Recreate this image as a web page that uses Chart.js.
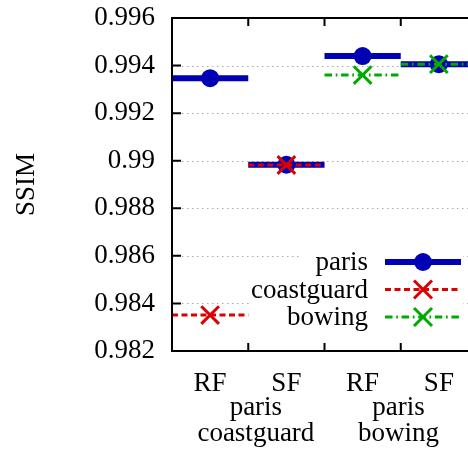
<!DOCTYPE html>
<html>
<head>
<meta charset="utf-8">
<script src="https://cdn.jsdelivr.net/npm/chart.js@4"></script>
<style>
  html, body { margin: 0; padding: 0; background: #fff; }
  #wrap { width: 468px; height: 449px; overflow: hidden; }
  canvas { display: block; }
</style>
</head>
<body>
<div id="wrap"><canvas id="ssim" width="480" height="449"></canvas></div>
<script>
// SSIM per method, one value per category (null = not in that group)
const categories = ['RF', 'SF', 'RF', 'SF'];
const groupNames = [['paris', 'coastguard'], ['paris', 'bowing']];
const parisSSIM = [0.99347, 0.98983, 0.99440, 0.99406];
const coastguardSSIM = [0.98351, 0.98982, null, null];
const bowingSSIM = [null, null, 0.99360, 0.99406];
const yTicks = [0.982, 0.984, 0.986, 0.988, 0.99, 0.992, 0.994, 0.996];

const FONT = 'Liberation Serif';
const FSIZE = 27;
const BLUE = '#0000b4';
const RED = '#dd0000';
const GREEN = '#00aa00';

// each value becomes a flat segment across its category with a marker in the middle
function segments(values) {
  const pts = [];
  values.forEach((v, i) => {
    if (v === null) return;
    pts.push({ x: i, y: v }, { x: i + 0.5, y: v, mark: true }, { x: i + 1, y: v }, { x: i + 1, y: null });
  });
  return pts;
}

function series(label, values, color, width, dash, style, radius, pw, order) {
  return {
    label: label,
    data: segments(values),
    borderColor: color,
    backgroundColor: color,
    borderWidth: width,
    borderDash: dash,
    borderCapStyle: 'butt',
    pointStyle: style,
    pointRadius: c => (c.raw && c.raw.mark ? radius : 0),
    pointBorderWidth: pw,
    pointBorderColor: color,
    pointBackgroundColor: color,
    spanGaps: false,
    tension: 0,
    order: order
  };
}

const datasets = [
  series('paris', parisSSIM, BLUE, 6, [], 'circle', 9, 0, 3),
  series('coastguard', coastguardSSIM, RED, 3, [6, 3.5], 'crossRot', 12.5, 3, 2),
  series('bowing', bowingSSIM, GREEN, 3, [7.5, 3.7, 1.7, 3.7], 'crossRot', 12.5, 3, 1)
];

// no extra room for overhanging tick labels, the frame sits where padding says
function noOverhang(s) {
  s.paddingTop = 0;
  s.paddingBottom = 0;
  s.paddingLeft = 0;
  s.paddingRight = 0;
}

// dotted horizontal grid under the data
const gridPlugin = {
  id: 'dottedGrid',
  beforeDatasetsDraw(chart) {
    const { ctx, chartArea: a, scales: { y } } = chart;
    ctx.save();
    ctx.strokeStyle = '#aaaaaa';
    ctx.lineWidth = 1;
    ctx.setLineDash([1.5, 3.5]);
    yTicks.slice(1, -1).forEach(t => {
      const py = Math.round(y.getPixelForValue(t)) + 0.5;
      ctx.beginPath();
      ctx.moveTo(a.left, py);
      ctx.lineTo(a.right, py);
      ctx.stroke();
    });
    ctx.restore();
  }
};

// frame, inward ticks, group labels and key
const framePlugin = {
  id: 'frameAndKey',
  afterDatasetsDraw(chart) {
    const { ctx, chartArea: a, scales: { x, y } } = chart;
    ctx.save();
    ctx.strokeStyle = '#000';
    ctx.lineWidth = 2;
    ctx.setLineDash([]);
    ctx.strokeRect(a.left, a.top, a.right - a.left, a.bottom - a.top);
    ctx.beginPath();
    yTicks.forEach(t => {
      const py = y.getPixelForValue(t);
      ctx.moveTo(a.left, py);
      ctx.lineTo(a.left + 9, py);
    });
    [1, 2, 3].forEach(v => {
      const px = x.getPixelForValue(v);
      ctx.moveTo(px, a.bottom);
      ctx.lineTo(px, a.bottom - 8);
      ctx.moveTo(px, a.top);
      ctx.lineTo(px, a.top + 8);
    });
    ctx.stroke();

    // group names under the RF/SF labels
    ctx.fillStyle = '#000';
    ctx.font = FSIZE + 'px "' + FONT + '"';
    ctx.textAlign = 'center';
    ctx.textBaseline = 'alphabetic';
    const centers = [1.1, 2.97];
    groupNames.forEach((lines, g) => {
      const px = x.getPixelForValue(centers[g]);
      lines.forEach((s, k) => ctx.fillText(s, px, a.bottom + 64 + k * 26));
    });

    // opaque key box
    ctx.fillStyle = '#fff';
    ctx.fillRect(300, 247, 163, 83);
    ctx.fillRect(249, 266, 214, 64);

    const rows = [262, 289.5, 317];
    const x0 = 385, x1 = 461, xm = (x0 + x1) / 2;
    chart.data.datasets.forEach((ds, i) => {
      const ry = rows[i];
      ctx.fillStyle = '#000';
      ctx.textAlign = 'right';
      ctx.textBaseline = 'middle';
      ctx.fillText(ds.label, 368, ry + 1);
      ctx.strokeStyle = ds.borderColor;
      ctx.lineWidth = ds.borderWidth;
      ctx.lineCap = 'butt';
      ctx.setLineDash(ds.borderDash);
      ctx.beginPath();
      ctx.moveTo(x0, ry);
      ctx.lineTo(x1, ry);
      ctx.stroke();
      ctx.setLineDash([]);
      if (ds.pointStyle === 'circle') {
        ctx.fillStyle = ds.borderColor;
        ctx.beginPath();
        ctx.arc(xm, ry, 9, 0, Math.PI * 2);
        ctx.fill();
      } else {
        ctx.lineWidth = 3;
        ctx.beginPath();
        ctx.moveTo(xm - 9, ry - 9);
        ctx.lineTo(xm + 9, ry + 9);
        ctx.moveTo(xm - 9, ry + 9);
        ctx.lineTo(xm + 9, ry - 9);
        ctx.stroke();
      }
    });
    ctx.restore();
  }
};

new Chart(document.getElementById('ssim').getContext('2d'), {
  type: 'line',
  data: { datasets: datasets },
  options: {
    responsive: false,
    animation: false,
    devicePixelRatio: 1,
    layout: { padding: { top: 18, right: 3, bottom: 0, left: 0 } },
    plugins: { legend: { display: false }, tooltip: { enabled: false } },
    scales: {
      x: {
        type: 'linear',
        min: 0,
        max: 4,
        grid: { display: false },
        border: { display: false },
        afterBuildTicks: s => { s.ticks = categories.map((c, i) => ({ value: i + 0.5 })); },
        afterFit: s => { s.height = 98; noOverhang(s); },
        ticks: {
          autoSkip: false,
          maxRotation: 0,
          padding: 9,
          color: '#000',
          font: { family: FONT, size: FSIZE },
          callback: (v, i) => categories[i]
        }
      },
      y: {
        min: 0.982,
        max: 0.996,
        grid: { display: false },
        border: { display: false },
        afterBuildTicks: s => { s.ticks = yTicks.map(v => ({ value: v })); },
        afterFit: s => { s.width = 172; noOverhang(s); },
        ticks: {
          padding: 9,
          color: '#000',
          font: { family: FONT, size: FSIZE },
          callback: v => String(parseFloat(v.toFixed(3)))
        },
        title: {
          display: true,
          text: 'SSIM',
          color: '#000',
          padding: { top: 11, bottom: 0 },
          font: { family: FONT, size: FSIZE }
        }
      }
    }
  },
  plugins: [gridPlugin, framePlugin]
});
</script>
</body>
</html>
